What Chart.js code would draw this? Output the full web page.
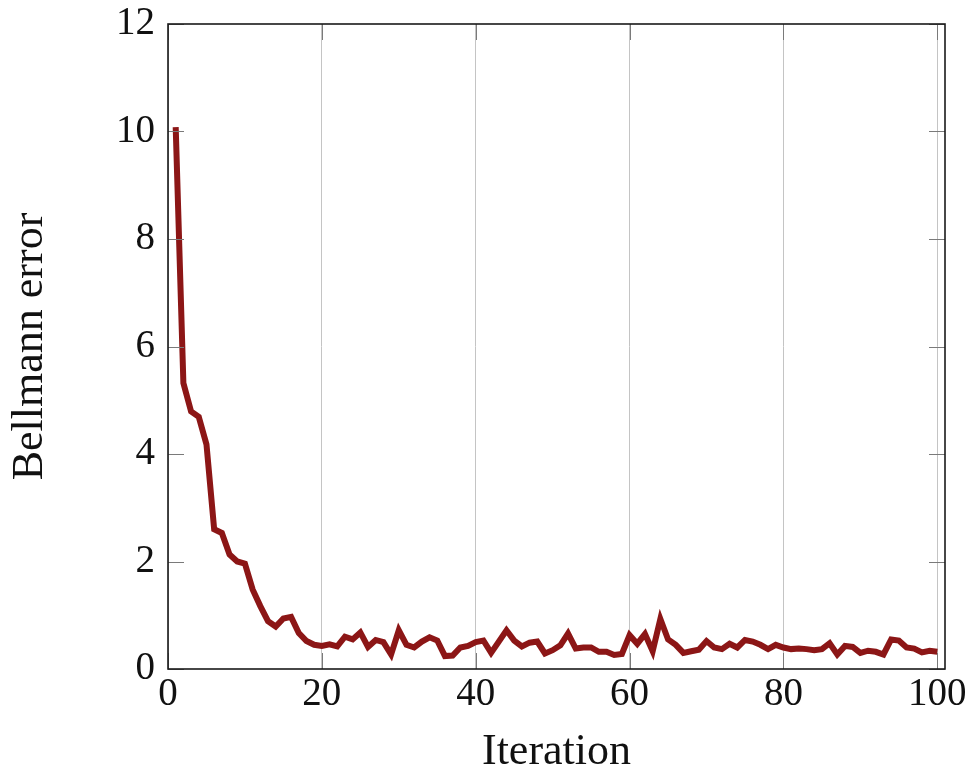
<!DOCTYPE html>
<html lang="en">
<head>
  <meta charset="UTF-8" />
  <title>Bellmann error</title>
  <script src="https://cdn.jsdelivr.net/npm/chart.js"></script>
  <style>
    html, body {
      margin: 0;
      padding: 0;
      background: #ffffff;
    }
    #wrap {
      width: 973px;
      height: 780px;
    }
  </style>
</head>
<body>

  <div id="wrap">
    <canvas id="bellmann" width="973" height="780"></canvas>
  </div>

  <script>
    // values, one per iteration (1..100)
    const bellmannError = [
      10.08, 5.32, 4.79, 4.69, 4.18, 2.60, 2.53, 2.13, 2.00, 1.96,
      1.48, 1.17, 0.89, 0.79, 0.94, 0.97, 0.67, 0.52, 0.45, 0.43,
      0.46, 0.42, 0.60, 0.55, 0.68, 0.41, 0.54, 0.50, 0.27, 0.72,
      0.45, 0.40, 0.51, 0.59, 0.53, 0.24, 0.25, 0.40, 0.43, 0.50,
      0.53, 0.30, 0.51, 0.72, 0.53, 0.42, 0.49, 0.51, 0.29, 0.35,
      0.44, 0.66, 0.38, 0.40, 0.40, 0.32, 0.32, 0.26, 0.28, 0.63,
      0.47, 0.65, 0.33, 0.93, 0.55, 0.45, 0.30, 0.33, 0.36, 0.52,
      0.40, 0.37, 0.47, 0.40, 0.54, 0.51, 0.45, 0.37, 0.45, 0.40,
      0.37, 0.38, 0.37, 0.35, 0.37, 0.48, 0.27, 0.43, 0.41, 0.30,
      0.34, 0.32, 0.27, 0.55, 0.53, 0.40, 0.38, 0.31, 0.34, 0.32
    ];
    const iterations = bellmannError.map((_, i) => i + 1);

    const xTicks = [0, 20, 40, 60, 80, 100];
    const yTicks = [0, 2, 4, 6, 8, 10, 12];

    const lineColor = "#8c1616";
    const serif = "'Liberation Serif', 'DejaVu Serif', serif";

    // pgfplots-like frame: top/right border and short inward ticks
    const framePlugin = {
      id: "frame",
      afterDatasetsDraw(chart) {
        const { ctx, chartArea: a, scales } = chart;
        const len = 16;
        ctx.save();
        ctx.strokeStyle = "#7a7a7a";
        ctx.lineWidth = 1;
        ctx.beginPath();
        yTicks.forEach(v => {
          const y = Math.round(scales.y.getPixelForValue(v)) + 0.5;
          ctx.moveTo(a.left, y); ctx.lineTo(a.left + len, y);
          ctx.moveTo(a.right, y); ctx.lineTo(a.right - len, y);
        });
        xTicks.forEach(v => {
          const x = Math.round(scales.x.getPixelForValue(v)) + 0.5;
          ctx.moveTo(x, a.top); ctx.lineTo(x, a.top + len);
          ctx.moveTo(x, a.bottom); ctx.lineTo(x, a.bottom - len);
        });
        ctx.stroke();

        ctx.strokeStyle = "#1a1a1a";
        ctx.lineWidth = 1.6;
        ctx.strokeRect(a.left, a.top, a.right - a.left, a.bottom - a.top);
        ctx.restore();
      }
    };

    new Chart(document.getElementById("bellmann").getContext("2d"), {
      type: "line",
      data: {
        datasets: [{
          label: "Bellmann error",
          data: iterations.map((x, i) => ({ x: x, y: bellmannError[i] })),
          borderColor: lineColor,
          borderWidth: 6,
          borderJoinStyle: "miter",
          borderCapStyle: "butt",
          pointRadius: 0,
          fill: false,
          tension: 0
        }]
      },
      options: {
        responsive: false,
        animation: false,
        devicePixelRatio: 1,
        layout: { padding: { left: 0, right: 28, top: 24, bottom: 0 } },
        plugins: {
          legend: { display: false },
          tooltip: { enabled: false }
        },
        scales: {
          x: {
            type: "linear",
            min: 0,
            max: 101,
            afterBuildTicks: s => { s.ticks = xTicks.map(v => ({ value: v })); },
            afterFit: s => {
              s.height = 111;
              s.paddingLeft = 0;
              s.paddingRight = 0;
            },
            grid: { color: "#c4c4c4", lineWidth: 1, drawTicks: false },
            border: { display: false },
            ticks: {
              padding: 2,
              color: "#111",
              font: { family: serif, size: 39 }
            },
            title: {
              display: true,
              text: "Iteration",
              color: "#111",
              font: { family: serif, size: 44 },
              padding: { top: 0, bottom: 1 }
            }
          },
          y: {
            min: 0,
            max: 12,
            afterBuildTicks: s => { s.ticks = yTicks.map(v => ({ value: v })); },
            afterFit: s => {
              s.width = 168;
              s.paddingTop = 0;
              s.paddingBottom = 0;
            },
            grid: { display: false, drawTicks: false },
            border: { display: false },
            ticks: {
              padding: 13,
              color: "#111",
              font: { family: serif, size: 39 }
            },
            title: {
              display: true,
              text: "Bellmann error",
              color: "#111",
              font: { family: serif, size: 44 },
              padding: { top: 4, bottom: 0 }
            }
          }
        }
      },
      plugins: [framePlugin]
    });
  </script>

</body>
</html>
